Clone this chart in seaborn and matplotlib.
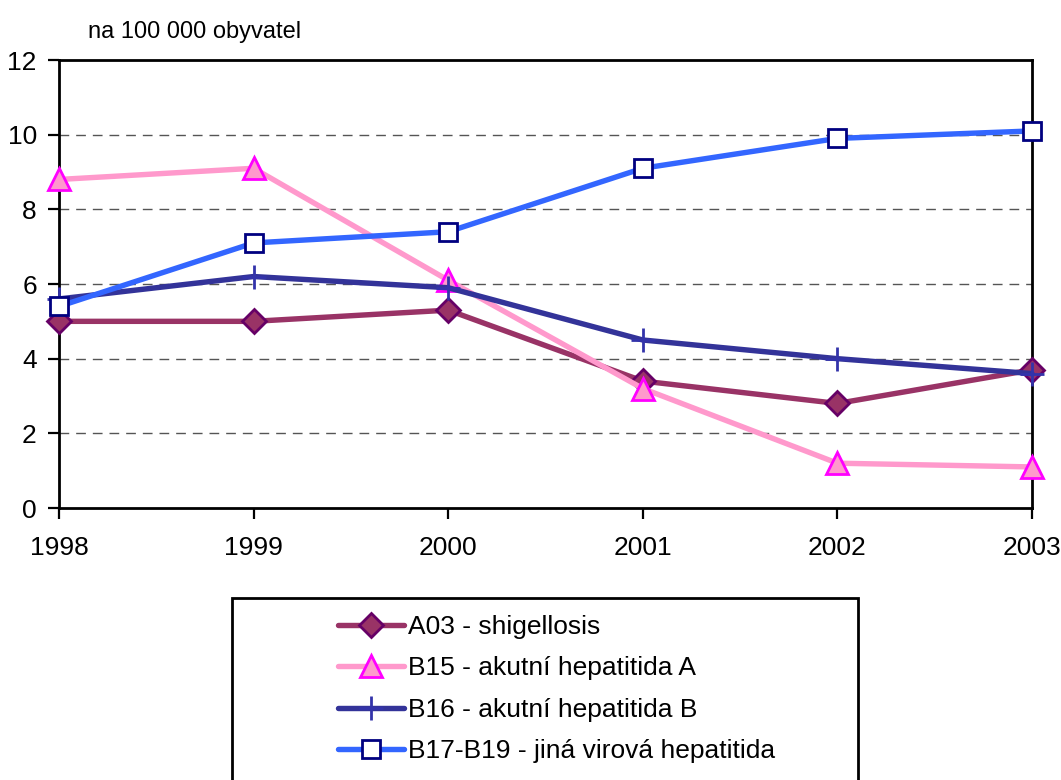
import pandas as pd
import numpy as np
import seaborn as sns
import matplotlib.pyplot as plt
from matplotlib.patches import Rectangle

years = [1998, 1999, 2000, 2001, 2002, 2003]
a03 = [5.0, 5.0, 5.3, 3.4, 2.8, 3.7]
b15 = [8.8, 9.1, 6.1, 3.2, 1.2, 1.1]
b16 = [5.6, 6.2, 5.9, 4.5, 4.0, 3.6]
b17 = [5.4, 7.1, 7.4, 9.1, 9.9, 10.1]
labels = ["A03 - shigellosis", "B15 - akutní hepatitida A",
          "B16 - akutní hepatitida B", "B17-B19 - jiná virová hepatitida"]
yticks = [0, 2, 4, 6, 8, 10, 12]

# line style per series: (line colour, marker, face, edge, size)
styles = [
    ("#993366", "D", "#993366", "#660066", 12),
    ("#FF99CC", "^", "#FF99CC", "#FF00FF", 16),
    ("#333399", "+", "#3333AA", "#3333AA", 17),
    ("#3366FF", "s", "white", "#000080", 12.5),
]

sns.set_theme(style="white")
plt.rcParams["font.family"] = ["Liberation Sans", "DejaVu Sans"]

fig = plt.figure(figsize=(10.61, 7.8), dpi=100)
ax = fig.add_axes([59 / 1061, 1 - 508 / 780, (1032 - 59) / 1061, (508 - 60) / 780])

for vals, lab, (col, mk, fc, ec, ms) in zip([a03, b15, b16, b17], labels, styles):
    df = pd.DataFrame({"year": years, "value": vals})
    sns.lineplot(data=df, x="year", y="value", ax=ax, color=col, linewidth=3.9,
                 marker=mk, markersize=ms, markerfacecolor=fc, markeredgecolor=ec,
                 markeredgewidth=2, label=lab, clip_on=False, zorder=3)

ax.set_xlim(1998, 2003)
ax.set_ylim(0, 12)
ax.set_xticks(years)
ax.set_yticks(yticks)
ax.set_xlabel("")
ax.set_ylabel("")
for y in yticks[1:-1]:
    ax.axhline(y, color="#555555", linewidth=1, linestyle=(0, (7, 5)), zorder=1)
for s in ax.spines.values():
    s.set_color("black")
    s.set_linewidth(2)
ax.tick_params(axis="both", direction="out", length=8, width=1.6, color="black",
               labelsize=19, labelcolor="black")
ax.tick_params(axis="y", pad=8, left=True)
ax.tick_params(axis="x", pad=12, bottom=True)

fig.text(88 / 1061, 1 - 38 / 780, "na 100 000 obyvatel", fontsize=17,
         va="baseline", ha="left", color="black")

# legend box, running off the bottom edge like the original
fig.patches.append(Rectangle((232 / 1061, -0.01), (858 - 232) / 1061, 1 - 598 / 780 + 0.01,
                             transform=fig.transFigure, fill=False, edgecolor="black",
                             linewidth=2))
leg = ax.legend(loc="upper left", bbox_to_anchor=(338 / 1061, 1 - 615 / 780),
                bbox_transform=fig.transFigure, frameon=False, fontsize=19,
                handlelength=2.5, handletextpad=0.15, labelspacing=0.66,
                borderaxespad=0, borderpad=0)
for t in leg.get_texts():
    t.set_color("black")

fig.savefig("out.png", dpi=100)
